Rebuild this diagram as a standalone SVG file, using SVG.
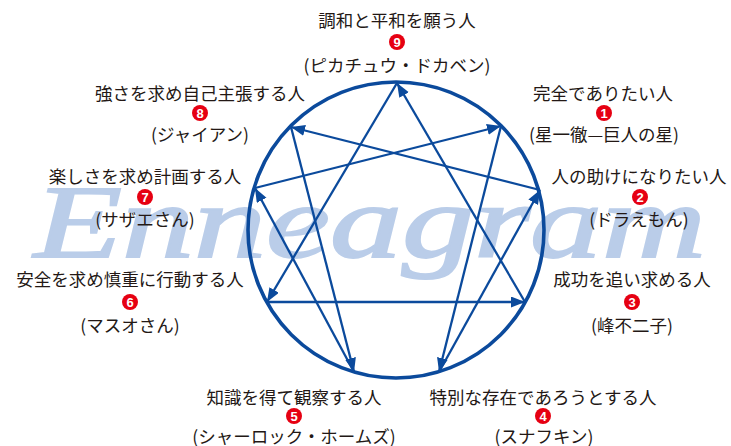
<svg xmlns="http://www.w3.org/2000/svg" width="731" height="446" viewBox="0 0 731 446">
<style>
.lbl{font-family:"Noto Sans CJK JP","Noto Sans",sans-serif;font-size:17.5px;fill:#231815;text-anchor:middle;dominant-baseline:central}
.num{font-family:"Liberation Sans",Arial,sans-serif;font-size:13px;font-weight:bold;fill:#fff;text-anchor:middle;dominant-baseline:central}
.badge{fill:#e60012}
.ln{stroke:#0b4a9c;stroke-width:2.3;fill:none}
.arr{marker-end:url(#ah)}
</style>
<defs>
<marker id="ah" markerUnits="userSpaceOnUse" markerWidth="16" markerHeight="12" refX="14" refY="5.5" orient="auto">
<path d="M0,0 L14,5.5 L0,11 Z" fill="#0b4a9c"/>
</marker>
</defs>
<rect width="731" height="446" fill="#fff"/>
<text x="34" y="257" textLength="672" lengthAdjust="spacingAndGlyphs" font-family="'Liberation Serif',serif" font-style="italic" font-size="104" fill="#bacde9" stroke="#bacde9" stroke-width="2">Enneagram</text>
<g id="connectors">
<circle cx="396" cy="230" r="148" fill="none" stroke="#0b4a9c" stroke-width="3.6"/>
<line class="ln arr" x1="501" y1="126" x2="439" y2="372"/>
<line class="ln arr" x1="439" y1="372" x2="540" y2="190"/>
<line class="ln arr" x1="540" y1="190" x2="291" y2="127"/>
<line class="ln arr" x1="291" y1="127" x2="354" y2="372"/>
<line class="ln arr" x1="354" y1="372" x2="255" y2="188"/>
<line class="ln arr" x1="255" y1="188" x2="501" y2="126"/>
<line class="ln arr" x1="397" y1="83" x2="267" y2="302"/>
<line class="ln arr" x1="267" y1="302" x2="525" y2="302"/>
<line class="ln arr" x1="525" y1="302" x2="397" y2="83"/>
</g>
<g id="node9">
<text class="lbl" x="397" y="19">調和と平和を願う人</text>
<circle class="badge" cx="397" cy="42" r="8"/><text class="num" x="397" y="42.5">9</text>
<text class="lbl" x="397" y="64">(ピカチュウ・ドカベン)</text>
</g>
<g id="node8">
<text class="lbl" x="200" y="92">強さを求め自己主張する人</text>
<circle class="badge" cx="200" cy="113" r="8"/><text class="num" x="200" y="113.5">8</text>
<text class="lbl" x="200" y="133">(ジャイアン)</text>
</g>
<g id="node1">
<text class="lbl" x="603" y="92">完全でありたい人</text>
<circle class="badge" cx="604" cy="113" r="8"/><text class="num" x="604" y="113.5">1</text>
<text class="lbl" x="604" y="133">(星一徹—巨人の星)</text>
</g>
<g id="node7">
<text class="lbl" x="145" y="175">楽しさを求め計画する人</text>
<circle class="badge" cx="145" cy="197" r="8"/><text class="num" x="145" y="197.5">7</text>
<text class="lbl" x="145" y="218">(サザエさん)</text>
</g>
<g id="node2">
<text class="lbl" x="639" y="175">人の助けになりたい人</text>
<circle class="badge" cx="640" cy="197" r="8"/><text class="num" x="640" y="197.5">2</text>
<text class="lbl" x="639" y="218">(ドラえもん)</text>
</g>
<g id="node6">
<text class="lbl" x="130" y="278">安全を求め慎重に行動する人</text>
<circle class="badge" cx="130" cy="302" r="8"/><text class="num" x="130" y="302.5">6</text>
<text class="lbl" x="130" y="324">(マスオさん)</text>
</g>
<g id="node3">
<text class="lbl" x="632" y="278">成功を追い求める人</text>
<circle class="badge" cx="632" cy="302" r="8"/><text class="num" x="632" y="302.5">3</text>
<text class="lbl" x="632" y="324">(峰不二子)</text>
</g>
<g id="node5">
<text class="lbl" x="294" y="396">知識を得て観察する人</text>
<circle class="badge" cx="294" cy="416" r="8"/><text class="num" x="294" y="416.5">5</text>
<text class="lbl" x="294" y="435">(シャーロック・ホームズ)</text>
</g>
<g id="node4">
<text class="lbl" x="543" y="396">特別な存在であろうとする人</text>
<circle class="badge" cx="543" cy="416" r="8"/><text class="num" x="543" y="416.5">4</text>
<text class="lbl" x="544" y="435">(スナフキン)</text>
</g>
</svg>
